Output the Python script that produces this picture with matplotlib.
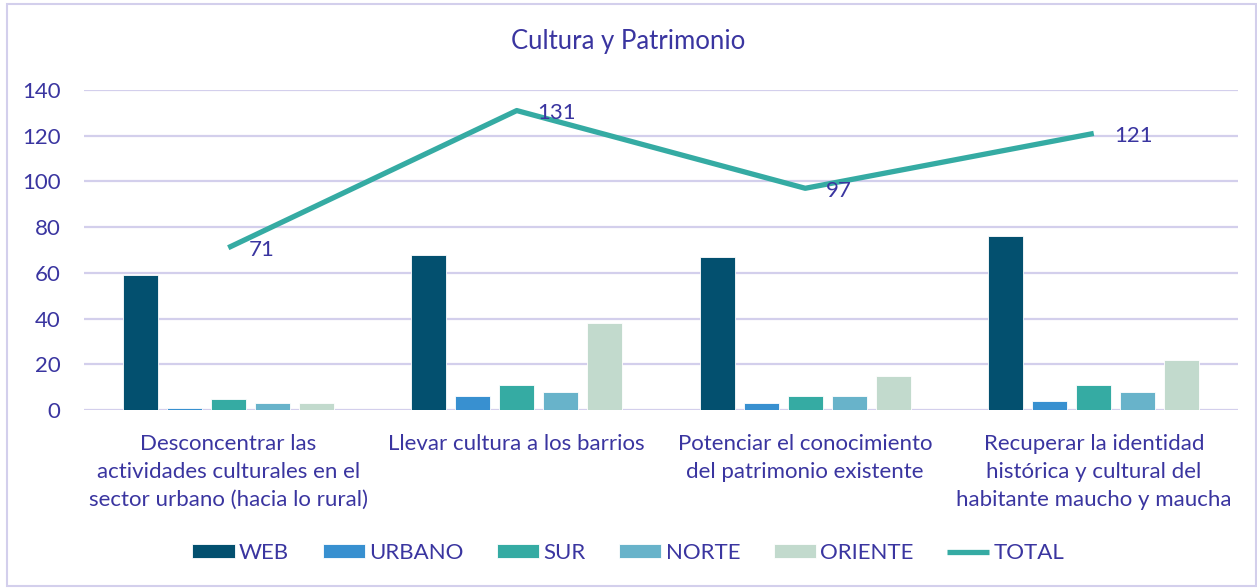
import numpy as np
import matplotlib
matplotlib.use("Agg")
import matplotlib.pyplot as plt
from matplotlib.patches import Rectangle

# Data
categories = [
    "Desconcentrar las\nactividades culturales en el\nsector urbano (hacia lo rural)",
    "Llevar cultura a los barrios",
    "Potenciar el conocimiento\ndel patrimonio existente",
    "Recuperar la identidad\nhistórica y cultural del\nhabitante maucho y maucha",
]
series_names = ["WEB", "URBANO", "SUR", "NORTE", "ORIENTE"]
web     = [59, 68, 67, 76]
urbano  = [1, 6, 3, 4]
sur     = [5, 11, 6, 11]
norte   = [3, 8, 6, 8]
oriente = [3, 38, 15, 22]
total   = [71, 131, 97, 121]

colors = ["#03506f", "#3890d0", "#35aba3", "#68b3ca", "#c2dacd"]
line_color = "#35aba3"
text_color = "#3a35a0"
grid_color = "#d3cfec"

plt.rcParams["font.family"] = ["Lato", "DejaVu Sans"]

fig = plt.figure(figsize=(12.57, 5.88), dpi=100)
ax = fig.add_axes([84 / 1257, 1 - 410 / 588, (1238 - 84) / 1257, 320 / 588])

x = np.arange(len(categories))
step = 0.1525
width = 0.121
for i, (name, vals) in enumerate(zip(series_names, [web, urbano, sur, norte, oriente])):
    ax.bar(x + (i - 2) * step, vals, width, color=colors[i], label=name,
           edgecolor="white", linewidth=0.6, zorder=3)

ax.plot(x, total, color=line_color, linewidth=3.8, label="TOTAL", zorder=4,
        solid_capstyle="butt")
for xi, v in zip(x, total):
    ax.text(xi + 0.072, v - 1, str(v), color=text_color, fontsize=16,
            ha="left", va="center", zorder=5)

ax.set_xlim(-0.5, 3.5)
ax.set_ylim(0, 140)
ax.set_yticks(range(0, 141, 20))
ax.yaxis.grid(True, color=grid_color, linewidth=1.6, zorder=0)
ax.set_axisbelow(True)
for s in ax.spines.values():
    s.set_visible(False)
ax.tick_params(axis="y", length=0, pad=17, labelsize=16, labelcolor=text_color)
ax.set_xticks(x)
ax.set_xticklabels(categories, fontsize=16, color=text_color, linespacing=1.5)
ax.tick_params(axis="x", length=0, pad=17)

fig.text(0.5, 1 - 42 / 588, "Cultura y Patrimonio", ha="center", va="center",
         fontsize=18.5, color=text_color)

# bars first, total line last in the legend
handles, labels = ax.get_legend_handles_labels()
order = [labels.index(n) for n in series_names + ["TOTAL"]]
leg = fig.legend([handles[k] for k in order], [labels[k] for k in order],
                 loc="center", bbox_to_anchor=(0.5, 1 - 553 / 588),
                 ncol=6, frameon=False, fontsize=16, handlelength=1.9,
                 handleheight=0.6, columnspacing=1.5, handletextpad=0.2)
for t in leg.get_texts():
    t.set_color(text_color)

fig.patches.append(Rectangle((7 / 1257, 0.003), 1 - 8 / 1257, 1 - 4 / 588 - 0.003,
                             transform=fig.transFigure, fill=False,
                             edgecolor=grid_color, linewidth=1.5))

fig.savefig("out.png", dpi=100)
